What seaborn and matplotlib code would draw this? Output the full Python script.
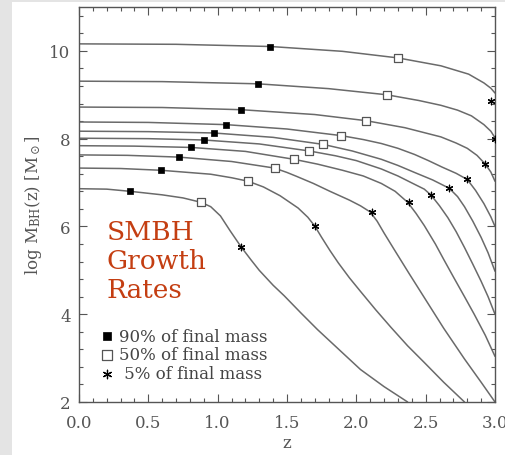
import matplotlib
matplotlib.use('Agg')
import matplotlib.pyplot as plt
from matplotlib.patches import Rectangle
from matplotlib.ticker import MultipleLocator, FormatStrFormatter
import seaborn as sns
import pandas as pd

# growth tracks (z, log M_BH)
z_c1 = [0, 0.7, 1.38, 1.9, 2.30, 2.61, 2.81, 2.92, 2.97, 3.0]
m_c1 = [10.16, 10.15, 10.10, 9.99, 9.84, 9.66, 9.47, 9.27, 9.15, 9.04]
z_c2 = [0, 0.6, 1.29, 1.8, 2.22, 2.45, 2.61, 2.73, 2.83, 2.92, 2.97, 3.0]
m_c2 = [9.31, 9.30, 9.25, 9.14, 9.00, 8.87, 8.76, 8.65, 8.52, 8.32, 8.17, 8.02]
z_c3 = [0, 0.6, 1.17, 1.7, 2.07, 2.35, 2.61, 2.72, 2.80, 2.87, 2.93, 2.97, 3.0]
m_c3 = [8.72, 8.71, 8.66, 8.55, 8.41, 8.25, 8.04, 7.90, 7.78, 7.62, 7.42, 7.24, 7.03]
z_c4 = [0, 0.5, 1.06, 1.5, 1.89, 2.05, 2.18, 2.30, 2.42, 2.52, 2.62, 2.72, 2.80, 2.86, 2.92, 2.97, 3.0]
m_c4 = [8.38, 8.37, 8.32, 8.22, 8.07, 7.98, 7.89, 7.78, 7.64, 7.50, 7.35, 7.21, 7.07, 6.82, 6.52, 6.22, 6.0]
z_c5 = [0, 0.5, 0.97, 1.4, 1.76, 1.97, 2.18, 2.30, 2.42, 2.55, 2.67, 2.73, 2.78, 2.84, 2.90, 2.95, 3.0]
m_c5 = [8.17, 8.16, 8.13, 8.03, 7.87, 7.72, 7.53, 7.39, 7.23, 7.06, 6.87, 6.68, 6.45, 6.12, 5.75, 5.40, 4.98]
z_c6 = [0, 0.5, 0.90, 1.3, 1.66, 1.85, 2.0, 2.18, 2.30, 2.42, 2.49, 2.54, 2.60, 2.66, 2.72, 2.78, 2.84, 2.90, 2.95, 3.0]
m_c6 = [8.01, 8.0, 7.97, 7.88, 7.72, 7.61, 7.50, 7.31, 7.15, 6.96, 6.85, 6.71, 6.47, 6.20, 5.88, 5.52, 5.14, 4.75, 4.40, 4.0]
z_c7 = [0, 0.4, 0.81, 1.2, 1.55, 1.72, 1.9, 2.05, 2.18, 2.28, 2.37, 2.43, 2.49, 2.57, 2.63, 2.70, 2.78, 2.85, 2.93, 3.0]
m_c7 = [7.84, 7.83, 7.80, 7.71, 7.53, 7.42, 7.28, 7.15, 6.98, 6.80, 6.55, 6.30, 6.02, 5.60, 5.25, 4.85, 4.40, 4.00, 3.52, 3.04]
z_c8 = [0, 0.35, 0.72, 1.1, 1.41, 1.50, 1.57, 1.69, 1.81, 1.95, 2.03, 2.10, 2.15, 2.20, 2.27, 2.38, 2.49, 2.63, 2.78, 2.90, 3.0]
m_c8 = [7.63, 7.62, 7.58, 7.48, 7.33, 7.23, 7.14, 6.98, 6.80, 6.60, 6.47, 6.33, 6.12, 5.85, 5.49, 4.93, 4.38, 3.68, 2.98, 2.45, 2.0]
z_c9 = [0, 0.3, 0.59, 0.95, 1.1, 1.22, 1.33, 1.45, 1.58, 1.65, 1.70, 1.75, 1.81, 1.87, 1.95, 2.03, 2.14, 2.25, 2.37, 2.49, 2.63, 2.78]
m_c9 = [7.33, 7.32, 7.28, 7.19, 7.11, 7.03, 6.90, 6.70, 6.42, 6.21, 6.01, 5.75, 5.45, 5.17, 4.83, 4.52, 4.10, 3.70, 3.28, 2.90, 2.45, 2.0]
z_c10 = [0, 0.2, 0.37, 0.6, 0.75, 0.88, 0.95, 1.02, 1.09, 1.17, 1.24, 1.30, 1.40, 1.48, 1.60, 1.72, 1.88, 2.03, 2.20, 2.37]
m_c10 = [6.86, 6.85, 6.80, 6.72, 6.65, 6.55, 6.45, 6.24, 5.90, 5.53, 5.24, 5.00, 4.66, 4.42, 4.03, 3.65, 3.18, 2.74, 2.35, 2.0]

# marked epochs
z90 = [1.38, 1.29, 1.17, 1.06, 0.97, 0.90, 0.81, 0.72, 0.59, 0.37]
m90 = [10.10, 9.25, 8.66, 8.32, 8.13, 7.97, 7.80, 7.58, 7.28, 6.80]
z50 = [2.30, 2.22, 2.07, 1.89, 1.76, 1.66, 1.55, 1.41, 1.22, 0.88]
m50 = [9.84, 9.00, 8.41, 8.07, 7.87, 7.72, 7.53, 7.33, 7.03, 6.55]
z05 = [2.97, 3.0, 2.93, 2.80, 2.67, 2.54, 2.38, 2.11, 1.70, 1.17]
m05 = [8.86, 8.00, 7.42, 7.07, 6.87, 6.71, 6.55, 6.33, 6.01, 5.53]

curves = [(z_c1, m_c1), (z_c2, m_c2), (z_c3, m_c3), (z_c4, m_c4), (z_c5, m_c5),
          (z_c6, m_c6), (z_c7, m_c7), (z_c8, m_c8), (z_c9, m_c9), (z_c10, m_c10)]

rows = []
for i, (zs, ms) in enumerate(curves):
    for z, m in zip(zs, ms):
        rows.append({'curve': i, 'z': z, 'logm': m})
df = pd.DataFrame(rows)

sns.set_theme(style='ticks')
plt.rcParams['font.family'] = ['DejaVu Serif']
plt.rcParams['mathtext.fontset'] = 'dejavuserif'

GREY = '#555555'
LINE = '#6a6a6a'

fig = plt.figure(figsize=(5.06, 4.56), dpi=100)
fig.patch.set_facecolor('#e4e4e4')
# white slide panel behind the plot
fig.patches.append(Rectangle((12 / 506, 0), 1, 1 - 3 / 456, transform=fig.transFigure,
                             facecolor='white', edgecolor='none', zorder=-10))
ax = fig.add_axes([79 / 506, 1 - 403 / 456, 416 / 506, 395 / 456])
ax.set_zorder(1)
ax.set_facecolor('white')

sns.lineplot(data=df, x='z', y='logm', units='curve', estimator=None, sort=False,
             color=LINE, lw=1.1, ax=ax)

sns.scatterplot(x=z90, y=m90, marker='s', s=20, color='black', edgecolor='black',
                linewidth=0.5, zorder=3, ax=ax, label='90% of final mass')
sns.scatterplot(x=z50, y=m50, marker='s', s=30, facecolor='white', edgecolor='#555555',
                linewidth=0.9, zorder=3, ax=ax, label='50% of final mass')
sns.scatterplot(x=z05, y=m05, marker=(6, 2, 0), s=22, color='black', edgecolor='black',
                linewidth=0.9, zorder=3, ax=ax, label=' 5% of final mass')

ax.set_xlim(0, 3.0)
ax.set_ylim(2, 11)
ax.xaxis.set_major_locator(MultipleLocator(0.5))
ax.xaxis.set_minor_locator(MultipleLocator(0.1))
ax.yaxis.set_major_locator(MultipleLocator(2))
ax.yaxis.set_minor_locator(MultipleLocator(0.4))
ax.xaxis.set_major_formatter(FormatStrFormatter('%.1f'))

ax.tick_params(which='both', direction='in', top=True, right=True, color=GREY,
               labelcolor=GREY, labelsize=12)
ax.tick_params(which='major', length=6, width=0.8)
ax.tick_params(which='minor', length=3, width=0.8)
ax.tick_params(axis='x', pad=9)
ax.tick_params(axis='y', pad=6)
for sp in ax.spines.values():
    sp.set_color(GREY)
    sp.set_linewidth(1.0)

ax.set_xlabel('z', fontsize=12, color=GREY, labelpad=2)
ax.set_ylabel(r'log M$_{\rm BH}$(z) [M$_\odot$]', fontsize=12, color=GREY, labelpad=4)

ax.text(0.2, 6.18, 'SMBH\nGrowth\nRates', color='#c43e12', fontsize=19,
        va='top', ha='left', linespacing=1.2)

leg = ax.legend(loc='upper left', bbox_to_anchor=(0.04, 0.205), frameon=False,
                fontsize=12, handlelength=0.6, handletextpad=0.4, labelspacing=0.1,
                borderaxespad=0, markerscale=1.3)
for t in leg.get_texts():
    t.set_color('#444444')

fig.savefig('out.png', dpi=100, facecolor=fig.get_facecolor())
